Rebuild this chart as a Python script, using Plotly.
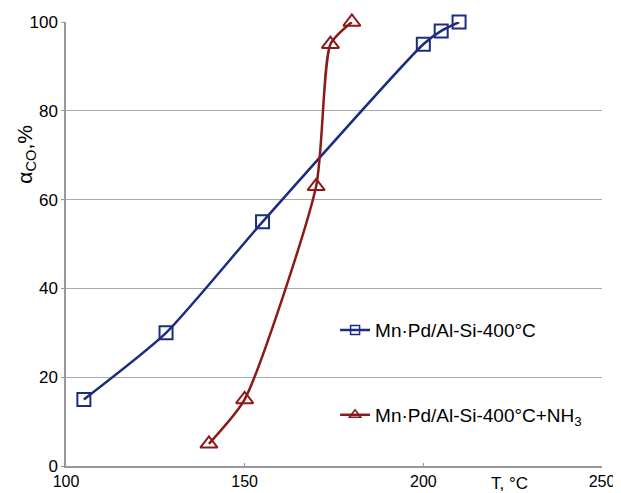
import plotly.graph_objects as go

blue_T = [105, 128, 155, 200, 205, 210]
blue_a = [15, 30, 55, 95, 98, 100]
red_T = [140, 150, 170, 174, 180]
red_a = [5, 15, 63, 95, 100]

x_ticks = [100, 150, 200, 250]
y_ticks = [0, 20, 40, 60, 80, 100]

blue_name = "Mn·Pd/Al-Si-400°C"
red_name = "Mn·Pd/Al-Si-400°C+NH<sub>3</sub>"

BLUE = "#1c2c80"
RED = "#8b1a1a"
FONT = "Liberation Sans, Arial, sans-serif"

fig = go.Figure()
fig.add_trace(go.Scatter(
    x=blue_T, y=blue_a, mode="lines+markers", name=blue_name, showlegend=False,
    line=dict(color=BLUE, width=2.5, shape="spline", smoothing=0.6),
    marker=dict(symbol="square-open", size=13, color=BLUE, line=dict(width=2)),
    cliponaxis=False))
fig.add_trace(go.Scatter(
    x=red_T, y=red_a, mode="lines+markers", name=red_name, showlegend=False,
    line=dict(color=RED, width=2.5, shape="spline", smoothing=0.6),
    marker=dict(symbol="triangle-up-open", size=15, color=RED, line=dict(width=2)),
    cliponaxis=False))
# legend entries (small symbols as in the reference)
fig.add_trace(go.Scatter(
    x=[None], y=[None], mode="lines+markers", name=blue_name,
    line=dict(color=BLUE, width=2.5),
    marker=dict(symbol="square-open", size=9, color=BLUE, line=dict(width=1.5)),
    legend="legend"))
fig.add_trace(go.Scatter(
    x=[None], y=[None], mode="lines+markers", name=red_name,
    line=dict(color=RED, width=2.5),
    marker=dict(symbol="triangle-up-open", size=10, color=RED, line=dict(width=1.5)),
    legend="legend2"))

fig.update_layout(
    width=613, height=485,
    margin=dict(l=58, r=19, t=14, b=27),
    showlegend=True,
    paper_bgcolor="white", plot_bgcolor="white",
    font=dict(family=FONT, size=17, color="black"),
    legend=dict(x=0.502, y=0.306, xanchor="left", yanchor="middle",
                bgcolor="rgba(0,0,0,0)", font=dict(size=19)),
    legend2=dict(x=0.502, y=0.115, xanchor="left", yanchor="middle",
                 bgcolor="rgba(0,0,0,0)", font=dict(size=19)),
    xaxis=dict(range=[100, 250], tickvals=x_ticks, showgrid=False,
               showline=True, linecolor="#999999", linewidth=1.5,
               ticks="inside", ticklen=3, tickcolor="#999999",
               tickfont=dict(size=16),
               zeroline=False, automargin=False),
    yaxis=dict(range=[0, 100], tickvals=y_ticks, showgrid=True,
               gridcolor="#aaaaaa", gridwidth=1.2,
               showline=True, linecolor="#999999", linewidth=1.5,
               ticks="outside", ticklen=3, tickcolor="#999999",
               zeroline=False, automargin=False),
    annotations=[
        dict(text="α<sub>CO</sub>,%", xref="paper", yref="paper",
             x=-0.075, y=0.703, textangle=-90, showarrow=False,
             xanchor="center", yanchor="middle", font=dict(size=21)),
        dict(text="T, °C", xref="paper", yref="paper",
             x=0.828, y=-0.04, showarrow=False,
             xanchor="center", yanchor="middle", font=dict(size=17)),
    ],
)

fig.write_html("out.html")
